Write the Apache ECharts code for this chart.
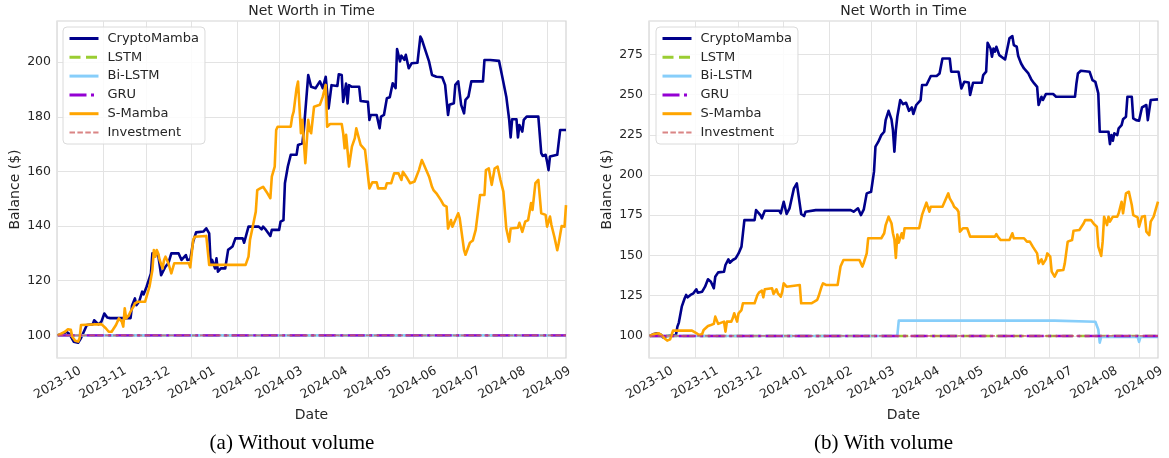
<!DOCTYPE html>
<html><head><meta charset="utf-8">
<script src="https://cdn.jsdelivr.net/npm/echarts@6/dist/echarts.min.js"></script>
<style>html,body{margin:0;padding:0;background:#fff}#c{width:1169px;height:458px}</style>
</head><body><div id="c"></div>
<script>
const seriesNames = ['CryptoMamba', 'LSTM', 'Bi-LSTM', 'GRU', 'S-Mamba', 'Investment'];
const xTickDates = ['2023-10-01','2023-11-01','2023-12-01','2024-01-01','2024-02-01','2024-03-01','2024-04-01','2024-05-01','2024-06-01','2024-07-01','2024-08-01','2024-09-01'];
const yTicksA = [100, 120, 140, 160, 180, 200];
const yTicksB = [100, 125, 150, 175, 200, 225, 250, 275];
const titles = ['Net Worth in Time', 'Net Worth in Time'];
const captions = ['(a) Without volume', '(b) With volume'];

// (a) Without volume
const cryptoMambaA = [['2023-10-01',100],['2023-10-05',100.7],['2023-10-07',101.3],['2023-10-09',100.5],['2023-10-12',97.7],['2023-10-15',97.3],['2023-10-17',99],['2023-10-18',100.2],['2023-10-21',103.8],['2023-10-25',104],['2023-10-26',105.5],['2023-10-29',104],['2023-10-31',105],['2023-11-02',108],['2023-11-04',106.5],['2023-11-06',106.3],['2023-11-20',106.3],['2023-11-21',110.8],['2023-11-23',113.5],['2023-11-24',111],['2023-11-26',112.5],['2023-11-28',116],['2023-11-29',115],['2023-12-01',117.8],['2023-12-04',122.7],['2023-12-05',130],['2023-12-07',129.4],['2023-12-09',129.4],['2023-12-11',122],['2023-12-12',121.5],['2023-12-14',125.2],['2023-12-16',126.4],['2023-12-18',130],['2023-12-23',130],['2023-12-25',127.6],['2023-12-28',129.4],['2023-12-29',127.6],['2023-12-31',127.8],['2024-01-02',134.3],['2024-01-04',137.7],['2024-01-09',138],['2024-01-11',139.2],['2024-01-13',137.3],['2024-01-14',126.4],['2024-01-15',127.6],['2024-01-17',124.5],['2024-01-18',128.2],['2024-01-19',123.3],['2024-01-21',124.5],['2024-01-24',124.5],['2024-01-26',131.3],['2024-01-29',132.5],['2024-01-31',135.5],['2024-02-05',135.5],['2024-02-06',133.9],['2024-02-09',139.8],['2024-02-16',139.8],['2024-02-18',138.8],['2024-02-19',139.8],['2024-02-21',138.6],['2024-02-24',136.4],['2024-02-25',138.6],['2024-03-01',138.6],['2024-03-02',141.6],['2024-03-04',142.2],['2024-03-05',155.7],['2024-03-07',161.8],['2024-03-09',166.1],['2024-03-13',166.1],['2024-03-14',169.7],['2024-03-17',170.3],['2024-03-18',175.2],['2024-03-21',195.3],['2024-03-23',191],['2024-03-26',190.5],['2024-03-29',193],['2024-03-31',190.5],['2024-04-02',194.7],['2024-04-04',183.1],['2024-04-06',191.6],['2024-04-10',191.3],['2024-04-11',195.6],['2024-04-13',195.3],['2024-04-14',185.5],['2024-04-16',192.2],['2024-04-17',184.9],['2024-04-18',191.6],['2024-04-20',191],['2024-04-25',191],['2024-04-26',185.8],['2024-05-01',185.5],['2024-05-02',178.9],['2024-05-03',180.7],['2024-05-07',180.7],['2024-05-09',175.8],['2024-05-10',180.1],['2024-05-12',180.7],['2024-05-14',186.8],['2024-05-16',187.2],['2024-05-18',192.3],['2024-05-20',190.5],['2024-05-21',204.8],['2024-05-23',200.3],['2024-05-24',202.4],['2024-05-26',200.9],['2024-05-27',202.7],['2024-05-29',197.8],['2024-05-31',199.6],['2024-06-04',199.8],['2024-06-06',209.4],['2024-06-07',208.4],['2024-06-09',205.1],['2024-06-10',204.5],['2024-06-12',200.2],['2024-06-14',195.3],['2024-06-17',194.7],['2024-06-21',194.5],['2024-06-23',191.7],['2024-06-25',180.7],['2024-06-26',184.4],['2024-06-29',185],['2024-06-30',191.7],['2024-07-02',193],['2024-07-04',184.4],['2024-07-06',181.3],['2024-07-07',186.2],['2024-07-09',187.4],['2024-07-11',193],['2024-07-12',192.3],['2024-07-19',193],['2024-07-20',200.8],['2024-07-24',200.8],['2024-07-25',200.5],['2024-07-30',200.5],['2024-08-01',195.3],['2024-08-02',195.9],['2024-08-04',187.4],['2024-08-06',178.9],['2024-08-07',172.5],['2024-08-08',179.1],['2024-08-11',179.1],['2024-08-12',172.5],['2024-08-13',177],['2024-08-15',174.6],['2024-08-16',178.9],['2024-08-18',180.1],['2024-08-26',180.1],['2024-08-28',166.7],['2024-08-29',165.7],['2024-08-31',166.1],['2024-09-01',163.6],['2024-09-02',160.5],['2024-09-03',165.5],['2024-09-08',166.1],['2024-09-10',175.2],['2024-09-14',175.2]];
const sMambaA = [['2023-10-01',100],['2023-10-06',101.3],['2023-10-08',102.2],['2023-10-10',102],['2023-10-11',99.5],['2023-10-13',98],['2023-10-15',97.7],['2023-10-16',98.9],['2023-10-17',103.8],['2023-10-18',104.1],['2023-10-31',104.1],['2023-11-03',102.6],['2023-11-05',101.3],['2023-11-07',101.3],['2023-11-10',103.8],['2023-11-12',106.2],['2023-11-13',105.9],['2023-11-14',105],['2023-11-15',103.2],['2023-11-16',109.9],['2023-11-17',106.2],['2023-11-19',107.5],['2023-11-20',108.7],['2023-11-22',110.5],['2023-11-23',111.7],['2023-11-25',112.3],['2023-11-27',112.3],['2023-11-28',111.7],['2023-11-30',112.3],['2023-12-01',114.2],['2023-12-03',117.8],['2023-12-05',123.9],['2023-12-06',131.2],['2023-12-07',128.8],['2023-12-08',131.2],['2023-12-09',130],['2023-12-10',127.6],['2023-12-12',124.5],['2023-12-13',127.6],['2023-12-14',128.8],['2023-12-16',126.4],['2023-12-18',122.7],['2023-12-20',126.4],['2023-12-30',126.4],['2023-12-31',124.9],['2024-01-02',134.9],['2024-01-03',136.1],['2024-01-11',136.4],['2024-01-13',125.8],['2024-02-07',125.8],['2024-02-09',128.8],['2024-02-10',134.9],['2024-02-12',140],['2024-02-14',145.3],['2024-02-15',153.2],['2024-02-17',153.8],['2024-02-19',154.4],['2024-02-20',153.8],['2024-02-22',152],['2024-02-24',150.2],['2024-02-25',158.1],['2024-02-27',161.8],['2024-02-28',175.2],['2024-02-29',176.4],['2024-03-09',176.4],['2024-03-10',180.1],['2024-03-11',181.9],['2024-03-12',186.2],['2024-03-13',190.5],['2024-03-14',192.9],['2024-03-15',183.6],['2024-03-16',174],['2024-03-17',178.9],['2024-03-19',163],['2024-03-21',178.9],['2024-03-22',175.2],['2024-03-23',174],['2024-03-25',183.7],['2024-03-29',184.4],['2024-03-31',187.4],['2024-04-02',191.7],['2024-04-03',176.4],['2024-04-05',177.4],['2024-04-13',177.4],['2024-04-14',174],['2024-04-15',168.5],['2024-04-16',173.4],['2024-04-18',161.8],['2024-04-20',169.1],['2024-04-22',172.2],['2024-04-23',175.8],['2024-04-26',169.7],['2024-04-27',169.1],['2024-04-29',167.9],['2024-05-02',153.8],['2024-05-04',156],['2024-05-07',156],['2024-05-08',153.8],['2024-05-13',153.8],['2024-05-14',155.7],['2024-05-17',155.7],['2024-05-19',159.3],['2024-05-22',159.3],['2024-05-24',156.9],['2024-05-25',159.9],['2024-05-28',157.5],['2024-05-30',155.7],['2024-06-02',156.3],['2024-06-05',160.5],['2024-06-07',164.2],['2024-06-08',163],['2024-06-10',160.5],['2024-06-12',158.1],['2024-06-14',154.4],['2024-06-15',153.2],['2024-06-17',152],['2024-06-20',149.6],['2024-06-22',147.7],['2024-06-24',147.1],['2024-06-25',139.1],['2024-06-27',142.2],['2024-06-28',139.8],['2024-06-30',142.2],['2024-07-02',144.7],['2024-07-03',142.9],['2024-07-06',131.2],['2024-07-07',129.5],['2024-07-08',128.8],['2024-07-10',133.9],['2024-07-12',134.7],['2024-07-14',138.6],['2024-07-16',147.1],['2024-07-17',151.4],['2024-07-20',151.4],['2024-07-21',160.5],['2024-07-23',161.1],['2024-07-25',155.1],['2024-07-27',161.1],['2024-07-29',161.8],['2024-07-31',156.9],['2024-08-02',152.6],['2024-08-04',139.1],['2024-08-06',134.3],['2024-08-07',139.1],['2024-08-12',139.4],['2024-08-13',141.2],['2024-08-15',137.9],['2024-08-17',141.6],['2024-08-19',142.2],['2024-08-21',148.4],['2024-08-22',145.9],['2024-08-24',155.7],['2024-08-26',156.9],['2024-08-28',144.7],['2024-08-31',144.1],['2024-09-01',139.8],['2024-09-03',143.5],['2024-09-04',140.4],['2024-09-06',136.1],['2024-09-08',131.2],['2024-09-09',133.7],['2024-09-11',140],['2024-09-13',139.8],['2024-09-14',147.7]];
const lstmA = [['2023-10-01',100],['2024-09-14',100]];
const biLstmA = [['2023-10-01',100],['2024-09-14',100]];
const gruA = [['2023-10-01',100],['2024-09-14',100]];
const investmentA = [['2023-10-01',100],['2024-09-14',100]];

// (b) With volume
const cryptoMambaB = [['2023-10-01',100],['2023-10-04',101.2],['2023-10-06',101.7],['2023-10-09',100.6],['2023-10-10',99.2],['2023-10-13',100],['2023-10-19',100.6],['2023-10-20',105.8],['2023-10-21',108.3],['2023-10-22',108.9],['2023-10-23',118.2],['2023-10-25',123.4],['2023-10-26',125.5],['2023-10-27',124],['2023-10-29',125.5],['2023-10-31',126.5],['2023-11-02',129],['2023-11-03',126.9],['2023-11-06',127.5],['2023-11-08',130.6],['2023-11-10',135.2],['2023-11-12',133.7],['2023-11-14',129.6],['2023-11-15',136.8],['2023-11-17',139.5],['2023-11-21',139.9],['2023-11-22',144.1],['2023-11-24',147.6],['2023-11-25',145.5],['2023-11-27',147.2],['2023-11-29',148.2],['2023-12-01',151.3],['2023-12-03',155.5],['2023-12-04',163.8],['2023-12-05',172],['2023-12-12',172],['2023-12-13',178.2],['2023-12-14',179.3],['2023-12-16',175.1],['2023-12-17',173.1],['2023-12-19',177.8],['2023-12-29',177.8],['2023-12-30',176.2],['2024-01-01',183.4],['2024-01-02',183.4],['2024-01-03',175.8],['2024-01-05',179.3],['2024-01-06',178.7],['2024-01-08',191.7],['2024-01-10',194.8],['2024-01-11',193.8],['2024-01-13',175.8],['2024-01-15',174.5],['2024-01-16',177.2],['2024-01-23',178.2],['2024-02-16',178.2],['2024-02-18',177.2],['2024-02-21',179.3],['2024-02-23',175.1],['2024-02-25',178.7],['2024-02-27',188.6],['2024-03-01',189.6],['2024-03-03',202.1],['2024-03-04',217.6],['2024-03-06',220.7],['2024-03-08',224.8],['2024-03-10',226.9],['2024-03-11',234.1],['2024-03-13',239.9],['2024-03-15',234.6],['2024-03-16',227.9],['2024-03-17',214.5],['2024-03-18',227.9],['2024-03-19',236.2],['2024-03-21',246.6],['2024-03-23',244],['2024-03-25',244.9],['2024-03-27',239.9],['2024-03-29',242],['2024-03-30',237.9],['2024-04-01',243.5],['2024-04-02',244.5],['2024-04-04',246.6],['2024-04-05',255.9],['2024-04-08',255.9],['2024-04-11',261.5],['2024-04-15',261.5],['2024-04-17',263.1],['2024-04-19',272.4],['2024-04-24',272.4],['2024-04-25',264.2],['2024-04-30',264.2],['2024-05-02',253.8],['2024-05-04',257.9],['2024-05-07',257.5],['2024-05-08',249.7],['2024-05-10',257.3],['2024-05-16',257.3],['2024-05-17',262.1],['2024-05-19',264.2],['2024-05-20',282.2],['2024-05-22',278.6],['2024-05-23',273.5],['2024-05-24',278.6],['2024-05-25',276.6],['2024-05-26',279.7],['2024-05-28',274.5],['2024-05-29',273.5],['2024-06-01',271.8],['2024-06-02',273],['2024-06-04',284.9],['2024-06-06',286.3],['2024-06-07',280.7],['2024-06-09',279.7],['2024-06-10',273.9],['2024-06-12',269.3],['2024-06-14',266.2],['2024-06-17',263.1],['2024-06-19',259.4],['2024-06-21',256.9],['2024-06-23',254.8],['2024-06-24',243.5],['2024-06-26',248.6],['2024-06-27',246.6],['2024-06-29',250.3],['2024-07-04',250.3],['2024-07-06',248.6],['2024-07-19',248.6],['2024-07-20',256.9],['2024-07-21',263.1],['2024-07-23',264.8],['2024-07-29',264.2],['2024-07-31',259],['2024-08-02',257.9],['2024-08-04',250.7],['2024-08-05',226.9],['2024-08-11',226.9],['2024-08-12',219.2],['2024-08-13',224.8],['2024-08-14',221.3],['2024-08-15',225.9],['2024-08-17',224.8],['2024-08-18',229],['2024-08-20',231],['2024-08-21',234.6],['2024-08-23',236.2],['2024-08-24',248.6],['2024-08-27',248.6],['2024-08-28',235.2],['2024-08-30',234.1],['2024-09-01',233.7],['2024-09-03',242],['2024-09-06',243.5],['2024-09-07',234.1],['2024-09-09',246.6],['2024-09-14',247]];
const sMambaB = [['2023-10-01',100],['2023-10-04',101.2],['2023-10-07',101.7],['2023-10-09',100.6],['2023-10-11',98.6],['2023-10-13',97.1],['2023-10-15',97.9],['2023-10-16',100.6],['2023-10-17',103.3],['2023-10-30',103.3],['2023-11-02',101.7],['2023-11-04',100.6],['2023-11-06',101.2],['2023-11-07',103.7],['2023-11-10',106.2],['2023-11-12',106.8],['2023-11-14',107.5],['2023-11-15',112],['2023-11-17',107.5],['2023-11-18',108.3],['2023-11-21',108.9],['2023-11-22',102.7],['2023-11-23',108.9],['2023-11-26',108.9],['2023-11-27',111],['2023-11-28',114.1],['2023-11-30',108.9],['2023-12-01',114.1],['2023-12-03',116.1],['2023-12-04',120.3],['2023-12-12',120.3],['2023-12-14',125.5],['2023-12-15',126.9],['2023-12-17',128.2],['2023-12-18',124],['2023-12-19',129],['2023-12-24',129.6],['2023-12-25',126.1],['2023-12-27',129],['2023-12-28',126.5],['2023-12-30',124.4],['2023-12-31',127.5],['2024-01-01',132.7],['2024-01-03',130.6],['2024-01-04',131.7],['2024-01-12',131.7],['2024-01-13',120.3],['2024-01-20',120.3],['2024-01-22',121.3],['2024-01-24',122.4],['2024-01-25',124.8],['2024-01-27',130.6],['2024-01-28',132.7],['2024-01-30',131.7],['2024-02-07',131.7],['2024-02-09',143.1],['2024-02-11',147.2],['2024-02-22',147.2],['2024-02-24',143.1],['2024-02-25',145.5],['2024-02-27',151.3],['2024-02-28',160.7],['2024-03-08',160.7],['2024-03-10',163.8],['2024-03-11',168.9],['2024-03-13',174.1],['2024-03-14',175.1],['2024-03-15',170],['2024-03-16',163.8],['2024-03-17',160],['2024-03-18',148.5],['2024-03-19',163],['2024-03-20',158],['2024-03-22',163.8],['2024-03-23',160.7],['2024-03-24',166.9],['2024-04-03',166.9],['2024-04-05',175.2],['2024-04-07',180.3],['2024-04-08',182.8],['2024-04-09',182.8],['2024-04-10',177.2],['2024-04-11',180.3],['2024-04-19',180.3],['2024-04-21',184.5],['2024-04-23',188.6],['2024-04-24',185.5],['2024-04-26',182.4],['2024-04-27',180.3],['2024-04-29',178.7],['2024-04-30',177.2],['2024-05-01',164.8],['2024-05-03',166.9],['2024-05-06',166.9],['2024-05-08',161.7],['2024-05-25',161.7],['2024-05-26',163.3],['2024-05-27',161.7],['2024-05-29',159.6],['2024-06-04',159.6],['2024-06-06',163.8],['2024-06-07',160.7],['2024-06-14',160.7],['2024-06-16',158.6],['2024-06-18',158.6],['2024-06-20',155.5],['2024-06-21',154.4],['2024-06-23',151.3],['2024-06-24',145.1],['2024-06-26',147.6],['2024-06-27',144.7],['2024-06-29',147.6],['2024-06-30',151.3],['2024-07-02',149.3],['2024-07-03',140],['2024-07-05',136.8],['2024-07-07',140.6],['2024-07-11',141],['2024-07-12',145.1],['2024-07-14',158.6],['2024-07-17',159.6],['2024-07-18',165.4],['2024-07-22',165.8],['2024-07-25',170],['2024-07-26',172],['2024-07-30',172],['2024-08-01',169.6],['2024-08-03',167.9],['2024-08-04',155.5],['2024-08-06',149.7],['2024-08-07',158.6],['2024-08-08',174.1],['2024-08-10',168.9],['2024-08-11',174.1],['2024-08-12',171],['2024-08-14',174.1],['2024-08-17',174.1],['2024-08-18',176.2],['2024-08-20',183.4],['2024-08-21',176.2],['2024-08-23',188.6],['2024-08-25',189.6],['2024-08-27',181.4],['2024-08-28',175.1],['2024-08-31',173.7],['2024-09-01',167.9],['2024-09-03',174.1],['2024-09-05',174.5],['2024-09-06',164.8],['2024-09-08',162.7],['2024-09-09',171],['2024-09-11',174.1],['2024-09-12',175.1],['2024-09-14',183.4]];
const biLstmB = [['2023-10-01',100],['2024-03-19',100],['2024-03-20',109.5],['2024-07-05',109.5],['2024-07-06',108.8],['2024-08-02',108.8],['2024-08-04',104],['2024-08-05',95.8],['2024-08-06',99.4],['2024-08-31',99.4],['2024-09-01',96.3],['2024-09-02',99.4],['2024-09-14',99.4]];
const lstmB = [['2023-10-01',100],['2024-09-14',100]];
const gruB = [['2023-10-01',100],['2024-09-14',100]];
const investmentB = [['2023-10-01',100],['2024-09-14',100]];

function ts(s) { const p = s.split('-').map(Number); return new Date(p[0], p[1] - 1, p[2] || 1).getTime(); }
const conv = arr => arr.map(d => [ts(d[0]), d[1]]);
const xTickVals = xTickDates.map(ts);
const xMin = new Date(2023, 8, 30, 12).getTime();
const xMax = new Date(2024, 8, 14, 0).getTime();

const styles = {
  'CryptoMamba': { color: '#00008b', width: 2.6, type: 'solid' },
  'LSTM': { color: '#9acd32', width: 2.4, type: [11, 5.5] },
  'Bi-LSTM': { color: '#87cefa', width: 2.6, type: 'solid' },
  'GRU': { color: '#9400d3', width: 2.4, type: [17, 4.5, 3, 4.5] },
  'S-Mamba': { color: '#ffa500', width: 2.6, type: 'solid' },
  'Investment': { color: 'rgba(205,92,92,0.75)', width: 1.8, type: [5.5, 2.4] }
};
const legendWidths = { 'CryptoMamba': 3, 'LSTM': 3, 'Bi-LSTM': 3, 'GRU': 3, 'S-Mamba': 3, 'Investment': 2 };

const panels = [
  { left: 57, yMin: 91.7, yMax: 215.1, yTicks: yTicksA, capX: 292, legendLeft: 63,
    data: { 'CryptoMamba': cryptoMambaA, 'LSTM': lstmA, 'Bi-LSTM': biLstmA, 'GRU': gruA, 'S-Mamba': sMambaA, 'Investment': investmentA } },
  { left: 649, yMin: 86.3, yMax: 295.7, yTicks: yTicksB, capX: 883.5, legendLeft: 656,
    data: { 'CryptoMamba': cryptoMambaB, 'LSTM': lstmB, 'Bi-LSTM': biLstmB, 'GRU': gruB, 'S-Mamba': sMambaB, 'Investment': investmentB } }
];
const W = 509, TOP = 21, H = 337;
const txt = '#262626', font = 'DejaVu Sans';
const fmtMonth = v => { const d = new Date(v); return d.getFullYear() + '-' + String(d.getMonth() + 1).padStart(2, '0'); };

const option = {
  animation: false,
  backgroundColor: '#ffffff',
  title: [], grid: [], xAxis: [], yAxis: [], legend: [], series: []
};
panels.forEach((p, i) => {
  option.grid.push({ left: p.left, top: TOP, width: W, height: H, show: true, borderColor: '#d4d4d4', borderWidth: 1.2, backgroundColor: '#fff' });
  option.title.push({ text: titles[i], left: p.left + W / 2, top: 4, textAlign: 'center', padding: 0,
    textStyle: { fontSize: 14, fontWeight: 'normal', color: txt, fontFamily: font } });
  option.title.push({ text: captions[i], left: p.capX, top: 433, textAlign: 'center', padding: 0,
    textStyle: { fontSize: 21, fontWeight: 'normal', color: '#000', fontFamily: 'Liberation Serif' } });
  option.xAxis.push({
    type: 'value', gridIndex: i, min: xMin, max: xMax,
    axisLine: { show: false }, axisTick: { show: false, customValues: xTickVals },
    axisLabel: { customValues: xTickVals, rotate: 30, align: 'center', verticalAlign: 'middle', margin: 25, hideOverlap: false,
      fontSize: 12.5, color: txt, fontFamily: font, formatter: fmtMonth, showMinLabel: true, showMaxLabel: true },
    splitLine: { show: true, lineStyle: { color: '#e3e3e3', width: 1 } },
    name: 'Date', nameLocation: 'middle', nameGap: 46,
    nameTextStyle: { fontSize: 14, color: txt, fontFamily: font }
  });
  option.yAxis.push({
    type: 'value', gridIndex: i, min: p.yMin, max: p.yMax,
    axisLine: { show: false }, axisTick: { show: false, customValues: p.yTicks },
    axisLabel: { customValues: p.yTicks, fontSize: 12.5, color: txt, fontFamily: font, margin: 6 },
    splitLine: { show: true, lineStyle: { color: '#e3e3e3', width: 1 } },
    name: 'Balance ($)', nameLocation: 'middle', nameGap: 35,
    nameTextStyle: { fontSize: 14, color: txt, fontFamily: font }
  });
  option.legend.push({
    left: p.legendLeft, top: 27, orient: 'vertical',
    data: seriesNames.map(n => ({ name: n, lineStyle: { width: legendWidths[n] } })),
    itemWidth: 29, itemHeight: 14, itemGap: 5.8, padding: [5, 6, 5, 5],
    itemStyle: { opacity: 0, color: 'transparent', borderColor: 'transparent', borderWidth: 0 },
    textStyle: { fontSize: 13, color: txt, fontFamily: font, padding: [0, 0, 0, 4] },
    backgroundColor: 'rgba(255,255,255,0.85)', borderColor: '#dadada', borderWidth: 1, borderRadius: 4
  });
  seriesNames.forEach(name => {
    const s = styles[name];
    option.series.push({
      name, type: 'line', xAxisIndex: i, yAxisIndex: i, data: conv(p.data[name]),
      symbol: 'none', showSymbol: false, clip: true,
      lineStyle: { color: s.color, width: s.width, type: s.type, cap: 'butt', join: 'round' },
      itemStyle: { color: s.color }, emphasis: { disabled: true }
    });
  });
});

const chart = echarts.init(document.getElementById('c'), null, { renderer: 'canvas' });
chart.setOption(option);
</script>
</body></html>
